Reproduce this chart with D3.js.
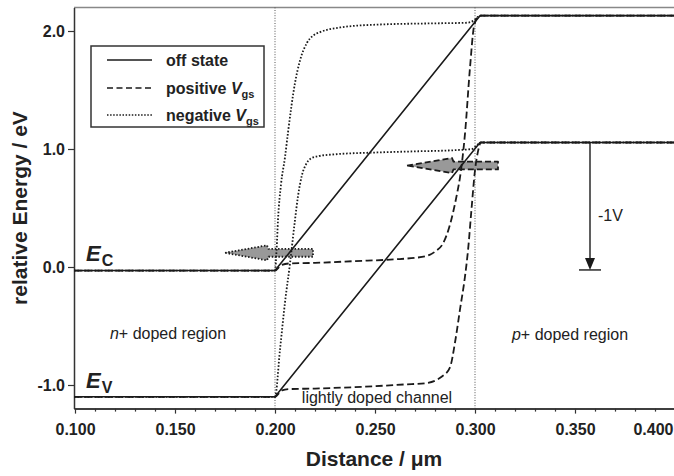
<!DOCTYPE html>
<html>
<head>
<meta charset="utf-8">
<script src="https://cdn.jsdelivr.net/npm/d3@7"></script>
<style>
  html, body { margin: 0; padding: 0; background: #fff; }
  svg { display: block; }
  text { font-family: "Liberation Sans", Arial, sans-serif; fill: #222; }
</style>
</head>
<body>
<svg id="chart" width="674" height="476"></svg>
<script>
// ---------------- data ----------------
const xMajorTicks = [0.100, 0.150, 0.200, 0.250, 0.300, 0.350, 0.400];
const xMinorTicks = [0.11,0.12,0.13,0.14,0.16,0.17,0.18,0.19,0.21,0.22,0.23,0.24,0.26,0.27,0.28,0.29,0.31,0.32,0.33,0.34,0.36,0.37,0.38,0.39];
const yTicks = [-1.0, 0.0, 1.0, 2.0];
const yTickLabels = ["-1.0", "0.0", "1.0", "2.0"];
const regionBounds = [0.200, 0.300];

// off state (solid)
const offEc = [[0.0995,-0.03],[0.200,-0.03],[0.3025,2.13],[0.3995,2.13]];
const offEv = [[0.0995,-1.10],[0.200,-1.10],[0.3025,1.055],[0.3995,1.055]];

// positive Vgs (dashed)
const posEc = [[0.0995,-0.03],[0.200,-0.03],[0.203,0.015],[0.207,0.03],[0.22,0.035],[0.24,0.05],[0.26,0.065],[0.27,0.078],[0.275,0.09],[0.28,0.13],[0.284,0.2],[0.287,0.33],[0.289,0.46],[0.291,0.62],[0.2925,0.76],[0.295,1.13],[0.2975,1.69],[0.2995,2.04],[0.3015,2.12],[0.303,2.13],[0.3995,2.13]];
const posEv = [[0.0995,-1.10],[0.200,-1.10],[0.2035,-1.045],[0.207,-1.035],[0.22,-1.03],[0.25,-1.01],[0.265,-0.995],[0.275,-0.985],[0.2833,-0.93],[0.2875,-0.85],[0.290,-0.64],[0.2925,-0.36],[0.295,-0.08],[0.2965,0.14],[0.2983,0.5],[0.300,0.82],[0.3015,0.98],[0.303,1.055],[0.3995,1.055]];

// negative Vgs (dotted)
const negEc = [[0.0995,-0.03],[0.200,-0.03],[0.2008,0.15],[0.2015,0.4],[0.203,0.7],[0.205,0.93],[0.2065,1.14],[0.210,1.56],[0.2125,1.75],[0.216,1.9],[0.219,1.96],[0.2225,1.99],[0.2325,2.03],[0.2525,2.055],[0.28,2.065],[0.296,2.07],[0.2995,2.09],[0.3015,2.12],[0.303,2.13],[0.3995,2.13]];
const negEv = [[0.0995,-1.10],[0.200,-1.10],[0.2025,-0.7],[0.205,-0.3],[0.2075,0.03],[0.210,0.4],[0.2115,0.6],[0.2135,0.78],[0.2155,0.87],[0.218,0.92],[0.222,0.94],[0.23,0.955],[0.25,0.97],[0.27,0.98],[0.29,0.99],[0.2985,1.0],[0.3015,1.04],[0.303,1.055],[0.3995,1.055]];

// block arrows: [tip x, neck x, tail x, y]
const arrowNeg = [0.175, 0.196, 0.219, 0.12];
const arrowPos = [0.266, 0.2885, 0.3115, 0.86];
// -1V arrow: [x, from y, to y]
const biasArrow = [0.3575, 1.055, -0.025];

const legendLabels = ["off state", "positive ", "negative "];

// ---------------- scales ----------------
const svg = d3.select("#chart");
const x = d3.scaleLinear().domain([0.0995, 0.3995]).range([74, 674]);
const y = d3.scaleLinear().domain([-1.2, 2.2]).range([408.6, 7.4]);
const X0 = 74, X1 = 674, Y0 = 408.6, Y1 = 7.4;

const ink = "#1a1a1a";

// frame
svg.append("line").attr("x1", X0).attr("x2", X1).attr("y1", Y1).attr("y2", Y1)
  .attr("stroke", "#888").attr("stroke-width", 1.5);

// region boundaries
svg.selectAll("line.bound").data(regionBounds).enter().append("line")
  .attr("class", "bound")
  .attr("x1", d => x(d)).attr("x2", d => x(d))
  .attr("y1", Y1).attr("y2", Y0)
  .attr("stroke", "#555").attr("stroke-width", 1).attr("stroke-dasharray", "1,1.6");

// axes
const gx = svg.append("g").attr("transform", `translate(0,${Y0})`);
gx.call(d3.axisBottom(x).tickValues(xMinorTicks).tickSize(3).tickSizeOuter(0).tickFormat(""));
const gx2 = svg.append("g").attr("transform", `translate(0,${Y0})`);
gx2.call(d3.axisBottom(x).tickValues(xMajorTicks).tickSize(5).tickPadding(10).tickSizeOuter(0).tickFormat(d3.format(".3f")));
[gx, gx2].forEach(g => {
  g.select(".domain").attr("stroke", "#333").attr("stroke-width", 1.5);
  g.selectAll(".tick line").attr("stroke", "#333").attr("stroke-width", 1.2);
});
gx2.selectAll(".tick text").attr("font-size", 16).attr("font-weight", "bold")
  .attr("font-family", "Liberation Sans, Arial, sans-serif").attr("fill", "#222");
// last label squeezed inside the canvas
gx2.selectAll(".tick").filter(d => d === 0.4).select("text")
  .attr("text-anchor", "end").attr("dx", -2);

const gy = svg.append("g").attr("transform", `translate(${X0},0)`);
gy.call(d3.axisLeft(y).tickValues(yTicks).tickSize(6).tickPadding(3).tickSizeOuter(0)
  .tickFormat((d, i) => yTickLabels[i]));
gy.select(".domain").attr("stroke", "#333").attr("stroke-width", 1.5);
gy.selectAll(".tick line").attr("stroke", "#333").attr("stroke-width", 1.2);
gy.selectAll(".tick text").attr("font-size", 16).attr("font-weight", "bold")
  .attr("font-family", "Liberation Sans, Arial, sans-serif").attr("fill", "#222");

// axis titles
svg.append("text").attr("x", 374).attr("y", 466).attr("text-anchor", "middle")
  .attr("font-size", 21).attr("font-weight", "bold")
  .text("Distance / \u03bcm");
svg.append("text").attr("transform", `translate(27,${(Y0 + Y1) / 2}) rotate(-90)`)
  .attr("text-anchor", "middle").attr("font-size", 21).attr("font-weight", "bold")
  .text("relative Energy / eV");

// block arrows (drawn under curves)
function blockArrow(a, dash) {
  const [tx, nx, ex, yy] = a;
  const cy = y(yy), hh = 7.5, bh = 3.9;
  const pts = [[x(tx), cy], [x(nx), cy - hh], [x(nx) + 1.5, cy - bh], [x(ex), cy - bh],
               [x(ex), cy + bh], [x(nx) + 1.5, cy + bh], [x(nx), cy + hh]];
  svg.append("polygon").attr("points", pts.map(p => p.join(",")).join(" "))
    .attr("fill", "#999").attr("stroke", ink).attr("stroke-width", 1.8)
    .attr("stroke-dasharray", dash).attr("stroke-linejoin", "round");
}
blockArrow(arrowNeg, "1.5,1.8");
blockArrow(arrowPos, "6,3");

// curves
const lineLin = d3.line().x(d => x(d[0])).y(d => y(d[1]));
const lineSmooth = d3.line().x(d => x(d[0])).y(d => y(d[1])).curve(d3.curveMonotoneX);

function curve(data, gen, dash, w) {
  svg.append("path").datum(data).attr("d", gen)
    .attr("fill", "none").attr("stroke", ink).attr("stroke-width", w)
    .attr("stroke-dasharray", dash).attr("stroke-linejoin", "round");
}
curve(offEc, lineLin, null, 1.6);
curve(offEv, lineLin, null, 1.6);
curve(posEc, lineSmooth, "7,3.5", 1.8);
curve(posEv, lineSmooth, "7,3.5", 1.8);
curve(negEc, lineSmooth, "1.6,1.8", 1.8);
curve(negEv, lineSmooth, "1.6,1.8", 1.8);

// -1V arrow
const [bx, by0, by1] = biasArrow;
svg.append("line").attr("x1", x(bx)).attr("x2", x(bx)).attr("y1", y(by0)).attr("y2", y(by1) - 10)
  .attr("stroke", ink).attr("stroke-width", 1.4);
svg.append("polygon")
  .attr("points", [[x(bx) - 5, y(by1) - 12], [x(bx) + 5, y(by1) - 12], [x(bx), y(by1)]].map(p => p.join(",")).join(" "))
  .attr("fill", ink);
svg.append("line").attr("x1", x(bx) - 11).attr("x2", x(bx) + 11).attr("y1", y(by1)).attr("y2", y(by1))
  .attr("stroke", ink).attr("stroke-width", 1.4);
svg.append("text").attr("x", x(bx) + 8).attr("y", y(by1) - 49).attr("font-size", 16).text("-1V");

// region labels
const nl = svg.append("text").attr("x", x(0.1465)).attr("y", 339).attr("text-anchor", "middle").attr("font-size", 16);
nl.append("tspan").attr("font-style", "italic").text("n");
nl.append("tspan").text("+ doped region");
const pl = svg.append("text").attr("x", x(0.3475)).attr("y", 340).attr("text-anchor", "middle").attr("font-size", 16);
pl.append("tspan").attr("font-style", "italic").text("p");
pl.append("tspan").text("+ doped region");
svg.append("text").attr("x", x(0.251)).attr("y", 403).attr("text-anchor", "middle").attr("font-size", 16)
  .text("lightly doped channel");

// band labels
function bandLabel(px, py, sub) {
  const t = svg.append("text").attr("x", px).attr("y", py).attr("font-weight", "bold");
  t.append("tspan").attr("font-style", "italic").attr("font-size", 22).text("E");
  t.append("tspan").attr("font-size", 16).attr("dy", 5).attr("dx", 1).text(sub);
}
bandLabel(86, 261, "C");
bandLabel(86, 388, "V");

// legend
const lg = svg.append("g");
lg.append("rect").attr("x", 91).attr("y", 46).attr("width", 173).attr("height", 81)
  .attr("fill", "#fff").attr("stroke", "#333").attr("stroke-width", 1.5);
const legDash = [null, "6,3.5", "1.5,1.6"];
const legY = [60, 88, 115];
legendLabels.forEach((lab, i) => {
  lg.append("line").attr("x1", 107).attr("x2", 152).attr("y1", legY[i]).attr("y2", legY[i])
    .attr("stroke", ink).attr("stroke-width", 1.6).attr("stroke-dasharray", legDash[i]);
  const t = lg.append("text").attr("x", 166).attr("y", legY[i] + 5.5).attr("font-size", 16).attr("font-weight", "bold");
  t.append("tspan").text(lab);
  if (i > 0) {
    t.append("tspan").attr("font-style", "italic").text("V");
    t.append("tspan").attr("font-size", 11).attr("dy", 4).text("gs");
  }
});
</script>
</body>
</html>
